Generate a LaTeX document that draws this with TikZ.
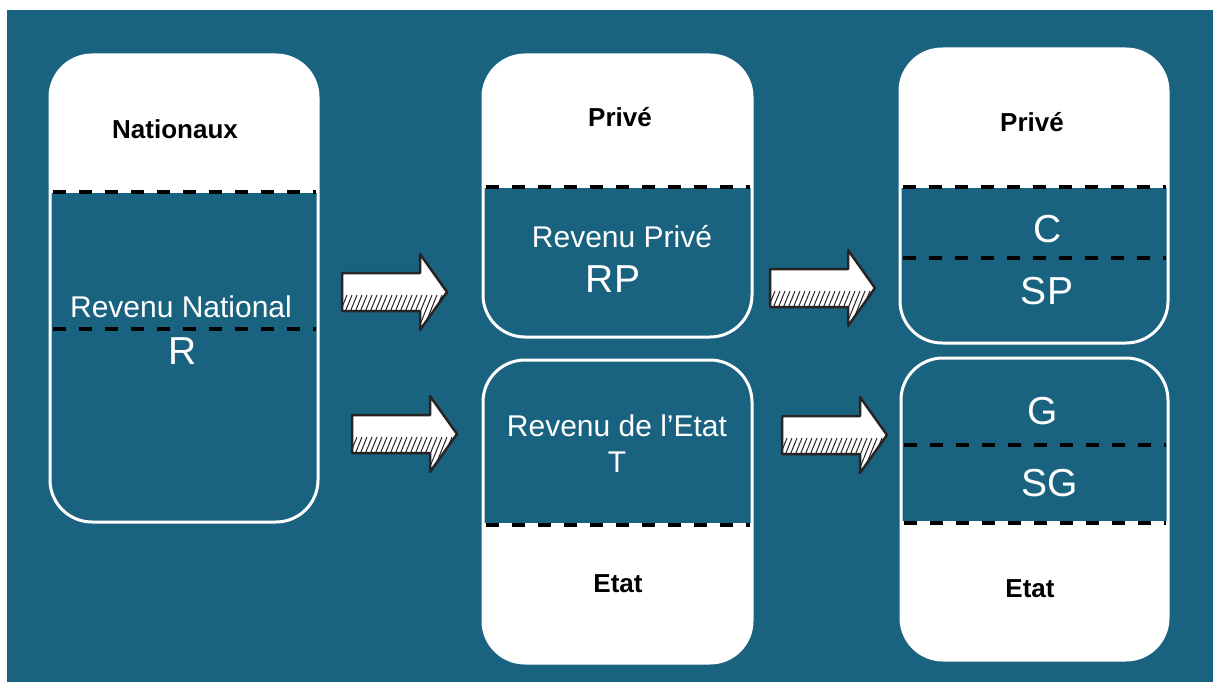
\documentclass[tikz,border=0pt]{standalone}
\usepackage{fontspec}
\setmainfont{Liberation Sans}
\definecolor{bg}{RGB}{26,99,128}
\definecolor{ink}{RGB}{40,36,36}
\tikzset{
  box/.style={draw=white, line width=3pt, fill=bg, rounded corners=42pt, inner sep=0pt},
  whitetop/.style={path picture={\fill[white, sharp corners] (path picture bounding box.north west) rectangle ([yshift=-#1]path picture bounding box.north east);}},
  whitebot/.style={path picture={\fill[white, sharp corners] (path picture bounding box.south west) rectangle ([yshift=#1]path picture bounding box.south east);}},
  dashline/.style={draw=black, line width=4pt, dash pattern=on 13pt off 13pt, shorten <=4pt, shorten >=4pt},
  head/.style={text=black, font=\fontsize{26}{30}\selectfont\bfseries, text height=19pt, text depth=0pt, inner sep=0pt},
  sub/.style={text=white, font=\fontsize{30}{34}\selectfont, text height=21.5pt, text depth=0pt, inner sep=0pt},
  big/.style={text=white, font=\fontsize{39}{44}\selectfont, text height=28pt, text depth=0pt, inner sep=0pt},
  fatarrow/.pic={
    \begin{scope}
      \clip (0,-19) -- (78,-19) -- (78,-38) -- (105,0) -- (78,38) -- (78,19) -- (0,19) -- cycle;
      \fill[white] (-5,-40) rectangle (110,40);
      \foreach \x in {-15,-10,...,110} \draw[ink, line width=1pt] (\x,40) -- (\x+15,3);
    \end{scope}
    \draw[ink, line width=2.5pt, line join=round] (0,-19) -- (78,-19) -- (78,-38) -- (105,0) -- (78,38) -- (78,19) -- (0,19) -- cycle;
  }
}
\begin{document}
\begin{tikzpicture}[x=1pt, y=-1pt]
\useasboundingbox (0,0) rectangle (1213,682);
\fill[white] (0,0) rectangle (1213,682);
\fill[bg] (7,10) rectangle (1213,682);

% boxes
\node[box, whitetop=138pt, minimum width=268pt, minimum height=467pt] (n1) at (184,288.5) {};
\node[box, whitetop=133pt, minimum width=269pt, minimum height=282pt] (n2) at (617.5,196) {};
\node[box, whitebot=140pt, minimum width=269pt, minimum height=303pt] (n3) at (617.5,511.5) {};
\node[box, whitetop=139pt, minimum width=268pt, minimum height=294pt] (n4) at (1034,196) {};
\node[box, whitebot=139pt, minimum width=267pt, minimum height=302pt] (n5) at (1034.5,509) {};

% dashed separators
\draw[dashline] ([yshift=-138pt]n1.north west) -- ([yshift=-138pt]n1.north east);
\draw[dashline] ([yshift=-275pt]n1.north west) -- ([yshift=-275pt]n1.north east);
\draw[dashline] ([yshift=-133pt]n2.north west) -- ([yshift=-133pt]n2.north east);
\draw[dashline] ([yshift=140pt]n3.south west) -- ([yshift=140pt]n3.south east);
\draw[dashline] ([yshift=-139pt]n4.north west) -- ([yshift=-139pt]n4.north east);
\draw[dashline] ([yshift=-210pt]n4.north west) -- ([yshift=-210pt]n4.north east);
\draw[dashline] ([yshift=-88pt]n5.north west) -- ([yshift=-88pt]n5.north east);
\draw[dashline] ([yshift=139pt]n5.south west) -- ([yshift=139pt]n5.south east);

% texts
\node[head] (t1) at (175,129) {Nationaux};
\node[sub]  (t2) at (181,307) {Revenu National};
\node[big]  (t3) at (183,350) {R};
\node[head] (t4) at (620,117) {Privé};
\node[sub]  (t5) at (622,237) {Revenu Privé};
\node[big]  (t6) at (613,278) {RP};
\node[sub]  (t7) at (617,426) {Revenu de l’Etat};
\node[sub]  (t8) at (617,462) {T};
\node[head] (t9) at (618,583) {Etat};
\node[head] (t10) at (1032,122) {Privé};
\node[big]  (t11) at (1048,228) {C};
\node[big]  (t12) at (1047,290) {SP};
\node[big]  (t13) at (1043,410) {G};
\node[big]  (t14) at (1050,482) {SG};
\node[head] (t15) at (1030,588) {Etat};

% arrows
\pic (a1) at (342,292) {fatarrow};
\pic (a2) at (352,434) {fatarrow};
\pic (a3) at (770,288) {fatarrow};
\pic (a4) at (782,435) {fatarrow};
\end{tikzpicture}
\end{document}
